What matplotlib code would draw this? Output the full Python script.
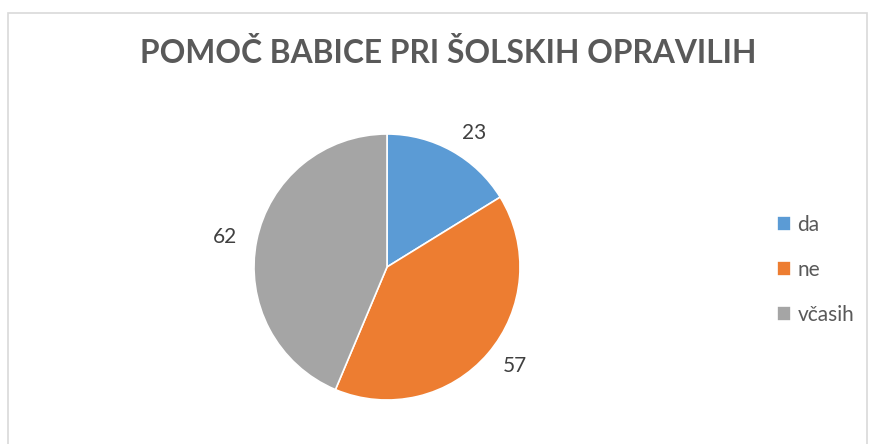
import matplotlib
matplotlib.use("Agg")
import matplotlib.pyplot as plt
from matplotlib.patches import Rectangle

categories = ["da", "ne", "včasih"]
values = [23, 57, 62]
colors = ["#5B9BD5", "#ED7D31", "#A5A5A5"]
title = "POMOČ BABICE PRI ŠOLSKIH OPRAVILIH"

W, H = 870, 444
fig = plt.figure(figsize=(W / 100, H / 100), dpi=100)
plt.rcParams['font.family'] = ['Lato', 'DejaVu Sans']

# chart border
fig.patches.append(Rectangle((8 / W, -0.1), (867 - 8) / W, (H - 13) / H + 0.1,
                             transform=fig.transFigure, fill=False,
                             edgecolor="#D9D9D9", linewidth=1.2))

cx, cy, r = 387, 267, 133
ax = fig.add_axes([(cx - r) / W, (H - cy - r) / H, 2 * r / W, 2 * r / H])
wedges, texts = ax.pie(values, colors=colors, startangle=90, counterclock=False,
                       labels=[str(v) for v in values], labeldistance=1.15,
                       wedgeprops=dict(edgecolor="white", linewidth=1.2),
                       textprops=dict(fontsize=15, color="#404040"))
ax.set_xlim(-1, 1)
ax.set_ylim(-1, 1)
ax.set_aspect("equal")

fig.text(448 / W, 1 - 53 / H, title, ha="center", va="center",
         fontsize=22.9, fontweight="bold", color="#595959")

leg = fig.legend(wedges, categories, loc="upper left",
                 bbox_to_anchor=(758 / W, 1 - 196 / H), frameon=False,
                 fontsize=15, handlelength=0.7, handleheight=0.7,
                 handletextpad=0.3, labelspacing=1.2, labelcolor="#595959")

fig.savefig("out.png", dpi=100)
